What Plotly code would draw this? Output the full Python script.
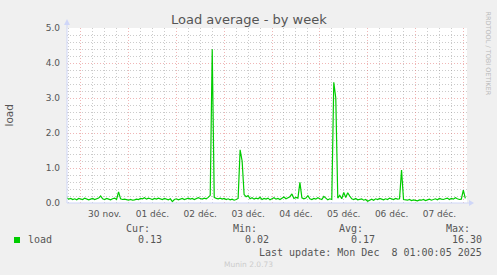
import plotly.graph_objects as go
import pandas as pd

# ---------------- data (hourly load average) ----------------
series_start = "2025-11-29 17:00"
load = [
    0.15, 0.11, 0.13, 0.10, 0.12, 0.09, 0.13, 0.11, 0.10, 0.14,
    0.12, 0.09, 0.11, 0.13, 0.10, 0.12, 0.14, 0.20, 0.12, 0.10,
    0.13, 0.11, 0.09, 0.12, 0.14, 0.10, 0.32, 0.12, 0.10, 0.11,
    0.09, 0.08, 0.10, 0.08, 0.09, 0.11, 0.10, 0.13, 0.12, 0.15,
    0.11, 0.14, 0.12, 0.10, 0.13, 0.11, 0.14, 0.12, 0.10, 0.13,
    0.11, 0.09, 0.12, 0.04, 0.10, 0.12, 0.09, 0.11, 0.13, 0.10,
    0.12, 0.14, 0.11, 0.13, 0.10, 0.12, 0.15, 0.13, 0.11, 0.14,
    0.12, 0.16, 0.22, 4.39, 0.16, 0.13, 0.12, 0.14, 0.11, 0.13,
    0.10, 0.12, 0.09, 0.11, 0.08, 0.10, 0.13, 1.52, 1.20, 0.24,
    0.18, 0.21, 0.12, 0.15, 0.11, 0.14, 0.12, 0.16, 0.10, 0.13,
    0.11, 0.14, 0.09, 0.12, 0.15, 0.11, 0.13, 0.10, 0.14, 0.17,
    0.12, 0.15, 0.18, 0.26, 0.13, 0.16, 0.14, 0.59, 0.15, 0.12,
    0.14, 0.21, 0.12, 0.10, 0.13, 0.11, 0.15, 0.12, 0.10, 0.19,
    0.13, 0.09, 0.12, 0.10, 3.45, 3.00, 0.14, 0.22, 0.12, 0.30,
    0.16, 0.29, 0.20, 0.12, 0.10, 0.13, 0.09, 0.11, 0.12, 0.08,
    0.10, 0.05, 0.09, 0.11, 0.08, 0.12, 0.10, 0.13, 0.11, 0.09,
    0.12, 0.10, 0.14, 0.11, 0.10, 0.13, 0.11, 0.12, 0.94, 0.10,
    0.09, 0.08, 0.10, 0.07, 0.09, 0.08, 0.06, 0.09, 0.08, 0.10,
    0.07, 0.09, 0.11, 0.08, 0.10, 0.12, 0.09, 0.13, 0.11, 0.10,
    0.12, 0.14, 0.10, 0.13, 0.11, 0.15, 0.12, 0.10, 0.11, 0.37,
    0.13,
]
label_days = ["2025-11-30", "2025-12-01", "2025-12-02", "2025-12-03",
              "2025-12-04", "2025-12-05", "2025-12-06", "2025-12-07"]
day_labels = ["30 nov.", "01 déc.", "02 déc.", "03 déc.",
              "04 déc.", "05 déc.", "06 déc.", "07 déc."]
legend_headers = ["Cur:", "Min:", "Avg:", "Max:"]
legend_values = ["0.13", "0.02", "0.17", "16.30"]
x_range = ["2025-11-29 17:07:30", "2025-12-08 01:51:00"]
y_range = [0, 5]

times = pd.date_range(series_start, periods=len(load), freq="h")
tickvals = [pd.Timestamp(d) + pd.Timedelta(hours=12) for d in label_days]

# ---------------- geometry helpers ----------------
W, H = 497, 275
L, R, T, B = 67, 30, 28, 72
PW, PH = W - L - R, H - T - B


def px(x):
    return (x - L) / PW


def py(y):
    return (H - B - y) / PH


FONT = "DejaVu Sans"
MONO = "DejaVu Sans Mono"
TXT = "#555555"
GREEN = "#00CC00"
AXIS = "#CFD6F8"
MGRID = "rgba(225,110,110,0.5)"
GRID = "rgba(140,140,140,0.45)"
DASH = "1px,2px"

fig = go.Figure()
# invisible trace keeping the base (grid) subplot alive
fig.add_trace(go.Scatter(x=[times[0]], y=[None], xaxis="x", yaxis="y",
                         showlegend=False, hoverinfo="skip"))
fig.add_trace(go.Scatter(x=times, y=load, mode="lines", xaxis="x2", yaxis="y",
                         line=dict(color=GREEN, width=1.2), showlegend=False,
                         hoverinfo="skip"))

fig.update_layout(
    width=W, height=H,
    margin=dict(l=L, r=R, t=T, b=B, pad=0),
    paper_bgcolor="#F0F0F0", plot_bgcolor="#FFFFFF",
    showlegend=False,
    xaxis=dict(type="date", range=x_range, tick0="2025-11-30", dtick=86400000,
               showgrid=True, gridcolor=MGRID, griddash=DASH, gridwidth=1,
               showticklabels=False, ticks="", showline=False, zeroline=False,
               minor=dict(tick0="2025-11-30", dtick=21600000, showgrid=True,
                          gridcolor=GRID, griddash=DASH, gridwidth=1)),
    xaxis2=dict(type="date", range=x_range, overlaying="x", anchor="y", side="bottom",
                tickmode="array", tickvals=tickvals, ticktext=day_labels,
                showgrid=False, ticks="", showline=False, zeroline=False,
                tickfont=dict(family=FONT, size=9, color=TXT), ticklabelstandoff=4),
    yaxis=dict(range=y_range, tick0=0, dtick=1, tickformat=".1f",
               showgrid=True, gridcolor=MGRID, griddash=DASH, gridwidth=1,
               zeroline=False, ticks="", showline=False,
               tickfont=dict(family=FONT, size=9, color=TXT), ticklabelstandoff=6,
               minor=dict(tick0=0, dtick=0.2, showgrid=True, gridcolor=GRID,
                          griddash=DASH, gridwidth=1)),
)

# axis lines with arrows (rrdtool style)
shapes = [
    dict(type="line", xref="paper", yref="paper", x0=px(67), x1=px(67),
         y0=py(203), y1=py(24), line=dict(color=AXIS, width=1)),
    dict(type="line", xref="paper", yref="paper", x0=px(67), x1=px(469),
         y0=py(203), y1=py(203), line=dict(color=AXIS, width=1)),
    dict(type="path", xref="paper", yref="paper",
         path=f"M {px(64)},{py(25)} L {px(70)},{py(25)} L {px(67)},{py(19)} Z",
         fillcolor=AXIS, line=dict(width=0)),
    dict(type="path", xref="paper", yref="paper",
         path=f"M {px(469)},{py(200)} L {px(469)},{py(206)} L {px(474)},{py(203)} Z",
         fillcolor=AXIS, line=dict(width=0)),
    dict(type="rect", xref="paper", yref="paper", x0=px(14), x1=px(20),
         y0=py(243), y1=py(237), fillcolor=GREEN, line=dict(width=0)),
]
fig.update_layout(shapes=shapes)


def ann(text, x, y, xanchor="center", size=10, family=MONO, color=TXT, angle=0):
    fig.add_annotation(text=text, x=px(x), y=py(y), xref="paper", yref="paper",
                       xanchor=xanchor, yanchor="middle", showarrow=False,
                       textangle=angle, borderpad=0,
                       font=dict(family=family, size=size, color=color))


ann("Load average - by week", 248.5, 19, size=13, family=FONT, color="#555555")
ann("load", 8.5, 116, size=10.5, family=FONT, angle=-90)
ann("RRDTOOL / TOBI OETIKER", 487.5, 53, size=6.5, family=FONT, color="#BBBBBB", angle=90)

header_right = [151, 257.5, 363.5, 471]
value_right = [162.5, 269.5, 375.5, 482.5]
for h, xr in zip(legend_headers, header_right):
    ann(h, xr, 228, xanchor="right")
for v, xr in zip(legend_values, value_right):
    ann(v, xr, 239.5, xanchor="right")
ann("load", 26.5, 239.5, xanchor="left")
ann("Last update: Mon Dec \u00a08 01:00:05 2025", 482.5, 252, xanchor="right")
ann("Munin 2.0.73", 248, 264.5, size=7.5, family=FONT, color="#CCCCCC")

fig.write_html("out.html")
